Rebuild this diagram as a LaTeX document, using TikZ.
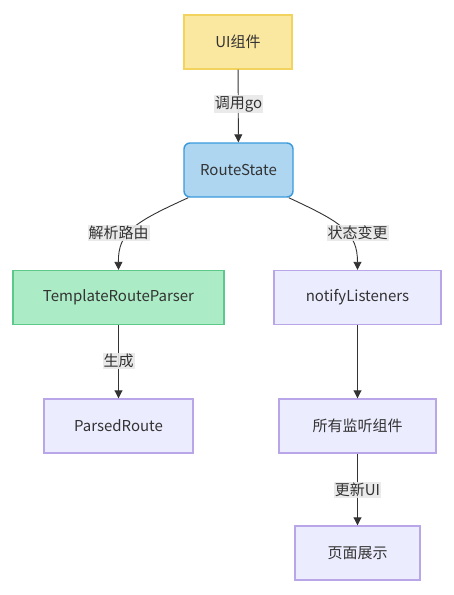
\documentclass[tikz,border=0pt]{standalone}
\usepackage{fontspec}
\setmainfont{Noto Sans CJK SC}
\usetikzlibrary{arrows.meta}
\definecolor{txt}{HTML}{333333}
\definecolor{ylwF}{HTML}{FBE8A0}
\definecolor{ylwD}{HTML}{F2D35E}
\definecolor{bluF}{HTML}{AED6F1}
\definecolor{bluD}{HTML}{3A9BDC}
\definecolor{grnF}{HTML}{ABEBC6}
\definecolor{grnD}{HTML}{5CC98B}
\definecolor{purF}{HTML}{ECECFF}
\definecolor{purD}{HTML}{B9A6E8}
\definecolor{lblF}{HTML}{E8E8E8}
\tikzset{
  box/.style={draw, line width=1.4pt, text=txt, font=\fontsize{15}{18}\selectfont, inner sep=0pt, minimum height=54pt},
  ylw/.style={box, fill=ylwF, draw=ylwD},
  blu/.style={box, fill=bluF, draw=bluD, rounded corners=6pt},
  grn/.style={box, fill=grnF, draw=grnD},
  pur/.style={box, fill=purF, draw=purD},
  lbl/.style={fill=lblF, fill opacity=0.9, text opacity=1, text=txt, font=\fontsize{15}{18}\selectfont, inner xsep=1pt, inner ysep=1pt},
  arr/.style={draw=txt, line width=0.9pt, -{Triangle[length=8pt,width=8pt]}}
}
\begin{document}
\begin{tikzpicture}[x=1pt,y=-1pt]
\path[use as bounding box, fill=white] (0,0) rectangle (453,595);
\node[ylw, minimum width=108pt] (ui) at (238,42) {UI组件};
\node[blu, minimum width=109pt] (rs) at (238.5,170) {RouteState};
\node[grn, minimum width=211pt] (tp) at (118.5,297.5) {TemplateRouteParser};
\node[pur, minimum width=167pt] (nl) at (357.5,297.5) {notifyListeners};
\node[pur, minimum width=149pt] (pr) at (118.5,426) {ParsedRoute};
\node[pur, minimum width=157pt] (al) at (357.5,426) {所有监听组件};
\node[pur, minimum width=125pt] (pg) at (357.5,553) {页面展示};

\draw[arr] (ui) -- (rs);
\draw[arr] ([xshift=5pt]rs.south west) .. controls (135,222) and (118,232) .. (tp.north);
\draw[arr] ([xshift=-5pt]rs.south east) .. controls (341,222) and (357.5,232) .. (nl.north);
\draw[arr] (tp) -- (pr);
\draw[arr] (nl) -- (al);
\draw[arr] (al) -- (pg);

\node[lbl] (l1) at (238.5,104) {调用go};
\node[lbl] (l2) at (118.5,233) {解析路由};
\node[lbl] (l3) at (357.5,233) {状态变更};
\node[lbl] (l4) at (118.5,361) {生成};
\node[lbl] (l5) at (357.5,490) {更新UI};
\end{tikzpicture}
\end{document}
